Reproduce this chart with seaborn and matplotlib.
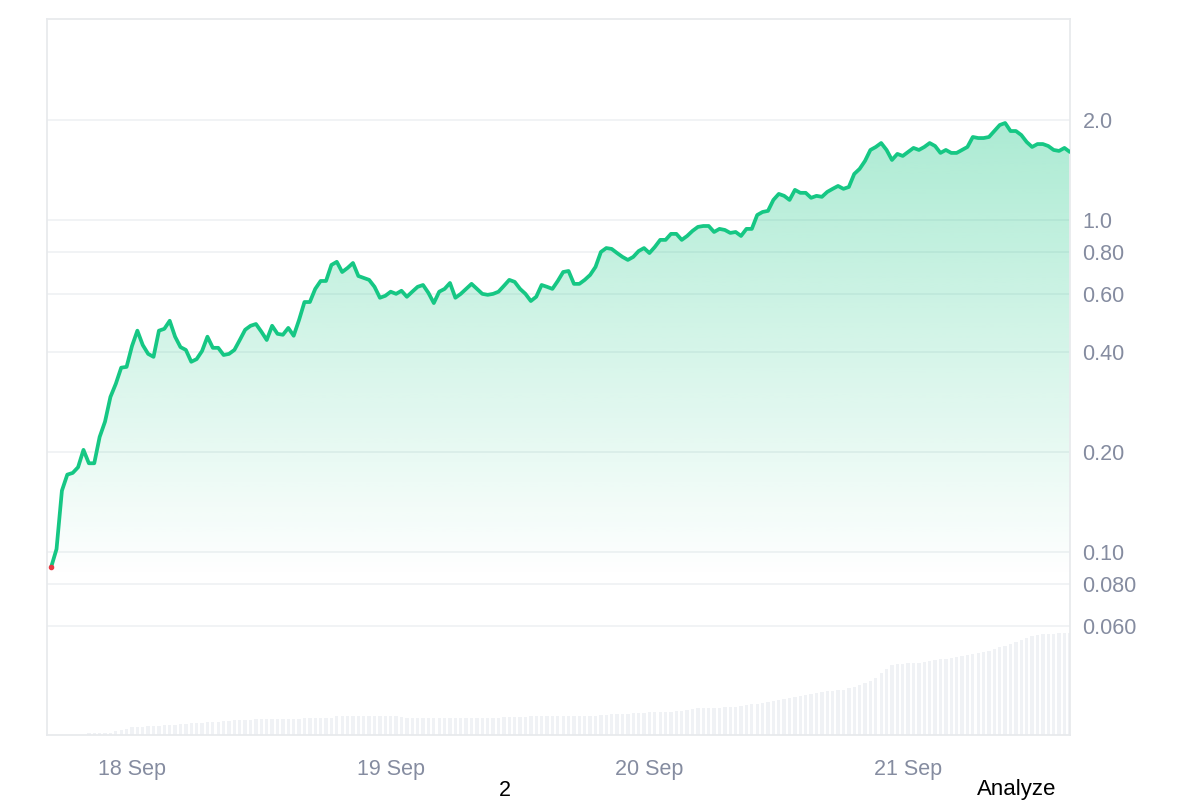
import numpy as np
import pandas as pd
import matplotlib
matplotlib.use("Agg")
import matplotlib.pyplot as plt
import matplotlib.dates as mdates
from matplotlib.ticker import FixedLocator, FixedFormatter, NullLocator
import seaborn as sns

# price (USD), one reading every 30 minutes from 17 Sep 16:30
price = [
    0.090, 0.102, 0.153, 0.171, 0.173, 0.180, 0.203, 0.185, 0.185, 0.222,
    0.247, 0.293, 0.321, 0.359, 0.361, 0.417, 0.464, 0.420, 0.395, 0.387,
    0.464, 0.470, 0.497, 0.445, 0.414, 0.406, 0.374, 0.381, 0.403, 0.445,
    0.412, 0.412, 0.392, 0.395, 0.406, 0.435, 0.467, 0.480, 0.486, 0.461,
    0.435, 0.480, 0.454, 0.451, 0.473, 0.448, 0.500, 0.566, 0.566, 0.620,
    0.655, 0.655, 0.732, 0.748, 0.697, 0.717, 0.742, 0.678, 0.669, 0.660,
    0.629, 0.583, 0.591, 0.608, 0.599, 0.612, 0.587, 0.608, 0.629, 0.637,
    0.603, 0.562, 0.608, 0.620, 0.646, 0.583, 0.599, 0.620, 0.642, 0.620,
    0.599, 0.595, 0.599, 0.608, 0.633, 0.660, 0.651, 0.620, 0.599, 0.570,
    0.587, 0.637, 0.629, 0.620, 0.655, 0.697, 0.702, 0.642, 0.642, 0.660,
    0.683, 0.722, 0.801, 0.823, 0.818, 0.795, 0.774, 0.758, 0.774, 0.806,
    0.823, 0.795, 0.829, 0.871, 0.871, 0.908, 0.908, 0.871, 0.895, 0.927,
    0.953, 0.959, 0.959, 0.920, 0.940, 0.933, 0.914, 0.920, 0.895, 0.940,
    0.940, 1.035, 1.057, 1.065, 1.149, 1.198, 1.182, 1.149, 1.232, 1.207,
    1.207, 1.166, 1.182, 1.174, 1.215, 1.241, 1.266, 1.241, 1.257, 1.376,
    1.425, 1.506, 1.625, 1.659, 1.705, 1.625, 1.516, 1.581, 1.559, 1.603,
    1.648, 1.625, 1.659, 1.705, 1.670, 1.592, 1.625, 1.592, 1.592, 1.625,
    1.659, 1.778, 1.765, 1.765, 1.778, 1.853, 1.932, 1.959, 1.853, 1.853,
    1.802, 1.717, 1.659, 1.693, 1.693, 1.670, 1.625, 1.614, 1.648, 1.603,
]

# 24h volume (millions USD), same timestamps
volume = [
    0.00, 0.00, 0.00, 0.00, 0.00, 0.00, 0.00, 0.10, 0.10, 0.10,
    0.10, 0.10, 0.20, 0.25, 0.30, 0.40, 0.40, 0.40, 0.45, 0.45,
    0.45, 0.50, 0.50, 0.50, 0.55, 0.55, 0.60, 0.60, 0.60, 0.65,
    0.65, 0.65, 0.70, 0.70, 0.75, 0.75, 0.75, 0.75, 0.80, 0.80,
    0.80, 0.80, 0.80, 0.80, 0.80, 0.80, 0.80, 0.85, 0.85, 0.85,
    0.85, 0.85, 0.85, 0.95, 0.95, 0.95, 0.95, 0.95, 0.95, 0.95,
    0.95, 0.95, 0.95, 0.95, 0.95, 0.90, 0.85, 0.85, 0.85, 0.85,
    0.85, 0.85, 0.85, 0.85, 0.85, 0.85, 0.85, 0.85, 0.85, 0.85,
    0.85, 0.85, 0.85, 0.85, 0.90, 0.90, 0.90, 0.90, 0.90, 0.95,
    0.95, 0.95, 0.95, 0.95, 0.95, 0.95, 0.95, 0.95, 0.95, 0.95,
    0.95, 0.95, 1.00, 1.00, 1.05, 1.05, 1.05, 1.05, 1.10, 1.10,
    1.10, 1.15, 1.15, 1.15, 1.15, 1.15, 1.20, 1.20, 1.25, 1.30,
    1.35, 1.35, 1.35, 1.35, 1.35, 1.40, 1.40, 1.40, 1.45, 1.50,
    1.55, 1.55, 1.60, 1.65, 1.70, 1.75, 1.80, 1.85, 1.90, 1.95,
    2.00, 2.05, 2.10, 2.15, 2.20, 2.20, 2.25, 2.25, 2.35, 2.40,
    2.50, 2.60, 2.70, 2.85, 3.10, 3.30, 3.50, 3.55, 3.55, 3.60,
    3.60, 3.60, 3.65, 3.70, 3.75, 3.80, 3.80, 3.85, 3.90, 3.95,
    4.00, 4.05, 4.10, 4.15, 4.20, 4.30, 4.40, 4.45, 4.55, 4.65,
    4.75, 4.85, 4.95, 5.00, 5.05, 5.05, 5.05, 5.10, 5.10, 5.10,
]

ytick_vals = [0.06, 0.08, 0.1, 0.2, 0.4, 0.6, 0.8, 1.0, 2.0]
ytick_labels = ["0.060", "0.080", "0.10", "0.20", "0.40", "0.60", "0.80", "1.0", "2.0"]
xtick_days = ["2024-09-18", "2024-09-19", "2024-09-20", "2024-09-21"]

times = pd.date_range("2024-09-17 16:30", periods=len(price), freq="30min")
df = pd.DataFrame({"time": times, "price": price, "volume": volume})

sns.set_theme(style="white")
plt.rcParams["font.family"] = ["Liberation Sans", "DejaVu Sans"]

green = "#16c784"
grid_c = "#eff1f4"
label_c = "#858ca0"

fig = plt.figure(figsize=(12, 8), dpi=100)
ax = fig.add_axes([47 / 1200, 65 / 800, 1023 / 1200, 716 / 800])
ax2 = ax.twinx()
ax.set_zorder(ax2.get_zorder() + 1)
ax.patch.set_visible(False)

# volume bars
ax2.bar(df["time"], df["volume"], width=0.62 / 48, color="#f0f2f5", linewidth=0)
ax2.set_ylim(0, 35.8)
ax2.set_yticks([])
for s in ax2.spines.values():
    s.set_visible(False)

# price line
ax.set_yscale("log")
sns.lineplot(data=df, x="time", y="price", ax=ax, color=green, linewidth=2.7, zorder=5)
ax.plot(df["time"].iloc[:1], df["price"].iloc[:1], "o", color="#ea3943", markersize=3, zorder=6)

xlim = (mdates.date2num(pd.Timestamp("2024-09-17 16:07")), mdates.date2num(pd.Timestamp("2024-09-21 15:01")))
ylim = (0.0281, 4.03)
ax.set_xlim(xlim)
ax.set_ylim(ylim)

# gradient fill under the line
poly = ax.fill_between(df["time"], df["price"], ylim[0], color="none", linewidth=0)
frac = np.linspace(0, 1, 400)
alpha = np.clip((frac - 0.22) / 0.64 * 0.36, 0, 0.40)
rgba = np.zeros((400, 1, 4))
rgba[:, 0, 0] = 22 / 255
rgba[:, 0, 1] = 199 / 255
rgba[:, 0, 2] = 132 / 255
rgba[:, 0, 3] = alpha
img = ax.imshow(rgba, extent=[0, 1, 0, 1], transform=ax.transAxes, origin="lower",
                aspect="auto", zorder=2, interpolation="bilinear")
path = poly.get_paths()[0]
img.set_clip_path(path, transform=ax.transData)

# axes styling
ax.yaxis.tick_right()
ax.yaxis.set_label_position("right")
ax.yaxis.set_major_locator(FixedLocator(ytick_vals))
ax.yaxis.set_major_formatter(FixedFormatter(ytick_labels))
ax.yaxis.set_minor_locator(NullLocator())
ax.set_xticks([mdates.date2num(pd.Timestamp(d)) for d in xtick_days])
ax.xaxis.set_major_formatter(mdates.DateFormatter("%d Sep"))
ax.tick_params(axis="y", length=0, pad=9, labelsize=15.5, labelcolor=label_c)
ax.tick_params(axis="x", length=0, pad=17, labelsize=15.5, labelcolor=label_c)
ax.set_xlabel("")
ax.set_ylabel("")
ax.grid(axis="y", color=grid_c, linewidth=1.2)
ax.grid(axis="x", visible=False)
for s in ax.spines.values():
    s.set_color("#e8eaed")
    s.set_linewidth(1.3)

fig.text(505 / 1200, 1 - 790 / 800, "2", ha="center", va="center", fontsize=15.5, color="black")
fig.text(1017 / 1200, 1 - 790 / 800, "Analyze", ha="center", va="center", fontsize=16, color="black")

fig.savefig("out.png", dpi=100, facecolor="white")
